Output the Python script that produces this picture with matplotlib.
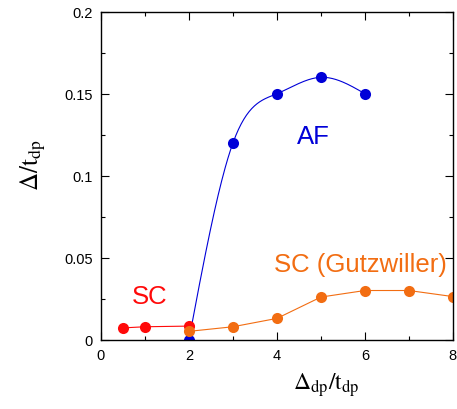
"""Gap vs charge-transfer energy: AF and SC order parameters."""

import matplotlib

matplotlib.use("Agg")
import matplotlib.pyplot as plt
import numpy as np
from matplotlib.ticker import MultipleLocator

plt.rcParams["font.family"] = ["Liberation Sans", "DejaVu Sans"]
plt.rcParams["mathtext.fontset"] = "stix"

BLUE = "#0000d8"
RED = "#ff0a0a"
ORANGE = "#f26d12"

# data
af_x = [2, 3, 4, 5, 6]
af_y = [0.0, 0.12, 0.15, 0.16, 0.15]
sc_x = [0.5, 1, 2]
sc_y = [0.0072, 0.0079, 0.0083]
gw_x = [2, 3, 4, 5, 6, 7, 8]
gw_y = [0.0051, 0.0079, 0.013, 0.026, 0.030, 0.030, 0.0263]


def natural_spline(x, y, n=200):
    # smooth curve through the points, only used for drawing the AF line
    x = np.asarray(x, float)
    y = np.asarray(y, float)
    h = np.diff(x)
    k = len(x)
    A = np.zeros((k, k))
    b = np.zeros(k)
    A[0, 0] = A[-1, -1] = 1.0
    for i in range(1, k - 1):
        A[i, i - 1] = h[i - 1]
        A[i, i] = 2 * (h[i - 1] + h[i])
        A[i, i + 1] = h[i]
        b[i] = 6 * ((y[i + 1] - y[i]) / h[i] - (y[i] - y[i - 1]) / h[i - 1])
    m = np.linalg.solve(A, b)
    xs = np.linspace(x[0], x[-1], n)
    j = np.clip(np.searchsorted(x, xs) - 1, 0, k - 2)
    t0 = xs - x[j]
    t1 = x[j + 1] - xs
    hj = h[j]
    ys = (m[j] * t1**3 + m[j + 1] * t0**3) / (6 * hj) \
        + (y[j] / hj - m[j] * hj / 6) * t1 + (y[j + 1] / hj - m[j + 1] * hj / 6) * t0
    return xs, ys


fig = plt.figure(figsize=(4.57, 4.10), dpi=100)
ax = fig.add_axes([0.221, 0.169, 0.770, 0.800])

xs, ys = natural_spline(af_x, af_y)
ax.plot(xs, ys, color=BLUE, lw=0.8)
ax.plot(af_x, af_y, "o", color=BLUE, ms=8, mec="none")
ax.plot(sc_x, sc_y, "-o", color=RED, lw=0.8, ms=8, mec="none")
ax.plot(gw_x, gw_y, "-o", color=ORANGE, lw=0.8, ms=8, mec="none")

ax.text(4.82, 0.124, "AF", color=BLUE, fontsize=18.5, ha="center", va="center")
ax.text(1.11, 0.0265, "SC", color=RED, fontsize=18.5, ha="center", va="center")
ax.text(5.89, 0.046, "SC (Gutzwiller)", color=ORANGE, fontsize=18.5, ha="center", va="center")

ax.set_xlim(0, 8)
ax.set_ylim(0, 0.2)
ax.xaxis.set_major_locator(MultipleLocator(2))
ax.xaxis.set_minor_locator(MultipleLocator(1))
ax.yaxis.set_minor_locator(MultipleLocator(0.025))
ax.set_yticks([0, 0.05, 0.1, 0.15, 0.2])
ax.set_yticklabels(["0", "0.05", "0.1", "0.15", "0.2"])
ax.tick_params(which="both", direction="in", top=True, right=True, labelsize=10.5, width=0.8)
ax.tick_params(which="major", length=6, pad=6)
ax.tick_params(which="minor", length=3)
for s in ax.spines.values():
    s.set_linewidth(1.0)

ax.set_xlabel(r"$\Delta_{\mathrm{dp}}/\mathrm{t}_{\mathrm{dp}}$", fontsize=17)
ax.xaxis.set_label_coords(0.64, -0.093, transform=ax.transAxes)
ax.xaxis.label.set_va("top")
ax.set_ylabel(r"$\Delta/\mathrm{t}_{\mathrm{dp}}$", fontsize=18)
ax.yaxis.set_label_coords(-0.152, 0.535, transform=ax.transAxes)

fig.savefig("out.png", dpi=100)
